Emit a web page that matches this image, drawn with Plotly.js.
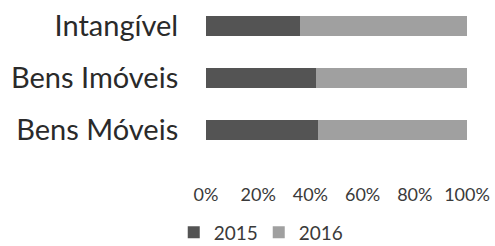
<!DOCTYPE html>
<html><head><meta charset="utf-8">
<script src="https://cdn.plot.ly/plotly-3.0.1.min.js"></script>
<style>body{margin:0;background:#fff}#c{width:495px;height:246px}</style>
</head><body><div id="c"></div>
<script>
const categories = ["Bens Móveis", "Bens Imóveis", "Intangível"];
const series2015 = [43, 42, 36];
const series2016 = [57, 58, 64];
const tickVals = [0, 20, 40, 60, 80, 100];
const tickText = ["0%", "20%", "40%", "60%", "80%", "100%"];

const traces = [
  {type:"bar", orientation:"h", name:"2015", y:categories, x:series2015,
   marker:{color:"#545454"}},
  {type:"bar", orientation:"h", name:"2016", y:categories, x:series2016,
   marker:{color:"#a0a0a0"}}
];
const layout = {
  width:495, height:246,
  margin:{l:206, r:28, t:0, b:90},
  barmode:"stack", bargap:0.63,
  paper_bgcolor:"#fff", plot_bgcolor:"#fff",
  font:{family:"Lato, 'Open Sans', sans-serif", color:"#3a3a3a"},
  xaxis:{range:[0,100], tickvals:tickVals, ticktext:tickText, showgrid:false,
         zeroline:false, showline:false, ticks:"outside", ticklen:22, tickcolor:"rgba(0,0,0,0)",
         tickfont:{size:18, color:"#3a3a3a"}, fixedrange:true},
  yaxis:{showgrid:false, zeroline:false, showline:false, ticks:"outside", ticklen:21,
         tickcolor:"rgba(0,0,0,0)", tickfont:{size:29, color:"#2a2a2a"}, fixedrange:true},
  showlegend:true,
  legend:{orientation:"h", xref:"container", yref:"container", x:0.351, xanchor:"left",
          y:0.055, yanchor:"middle",
          font:{size:19, color:"#3a3a3a"}, itemwidth:30, entrywidth:40, traceorder:"normal"}
};
Plotly.newPlot("c", traces, layout, {displayModeBar:false, staticPlot:true});
</script></body></html>
